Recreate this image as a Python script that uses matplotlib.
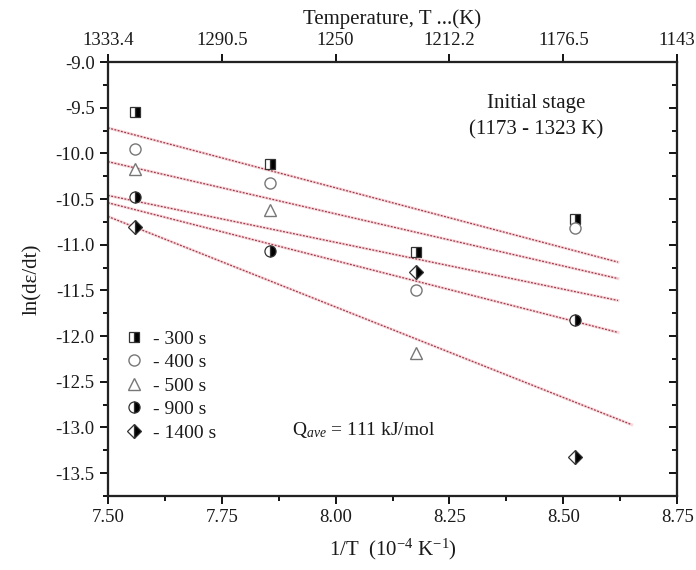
import numpy as np
import matplotlib
matplotlib.use('Agg')
import matplotlib.pyplot as plt

plt.rcParams['font.family'] = ['Liberation Serif', 'DejaVu Serif']
plt.rcParams['mathtext.fontset'] = 'custom'
plt.rcParams['mathtext.rm'] = 'Liberation Serif'
plt.rcParams['mathtext.it'] = 'Liberation Serif:italic'

# 1/T positions (10^-4 K^-1) of the four test temperatures
inv_T = [7.5586, 7.855, 8.177, 8.525]

# ln(de/dt) (nan = point not visible)
y_300 = [-9.55, -10.12, -11.08, -10.72]
y_400 = [-9.95, -10.32, -11.50, -10.82]
y_500 = [-10.17, -10.62, -12.18, np.nan]
y_900 = [-10.48, -11.07, np.nan, -11.82]
y_1400 = [-10.80, np.nan, -11.30, -13.32]

# fitted lines, start / end values
fit_x = [[7.50, 8.62], [7.50, 8.62], [7.50, 8.62], [7.50, 8.62], [7.50, 8.65]]
fit_y = [[-9.72, -11.19], [-10.09, -11.37], [-10.46, -11.61],
         [-10.54, -11.96], [-10.69, -12.97]]

top_ticks = [7.50, 7.75, 8.00, 8.25, 8.50, 8.75]
top_labels = ['1333.4', '1290.5', '1250', '1212.2', '1176.5', '1143']

txt = '#1a1a1a'

fig = plt.figure(figsize=(6.96, 5.70), dpi=100)
ax = fig.add_axes([0.155, 0.130, 0.818, 0.761])

for fx, fy in zip(fit_x, fit_y):
    ax.plot(fx, fy, color='#e07080', lw=2.2, alpha=0.25, zorder=1)
    ax.plot(fx, fy, color='#a03848', lw=0.9, ls=(0, (1.5, 1.2)), zorder=2)

ms = 7
ax.plot(inv_T, y_300, ls='none', marker='s', ms=ms - 0.5, fillstyle='right',
        markerfacecolor='black', markerfacecoloralt='white',
        markeredgecolor='#333333', markeredgewidth=0.9, label='- 300 s', zorder=3)
ax.plot(inv_T, y_400, ls='none', marker='o', ms=ms + 1, markerfacecolor='white',
        markeredgecolor='#777777', markeredgewidth=1.0, label='- 400 s', zorder=3)
ax.plot(inv_T, y_500, ls='none', marker='^', ms=ms + 1, markerfacecolor='white',
        markeredgecolor='#777777', markeredgewidth=1.0, label='- 500 s', zorder=3)
ax.plot(inv_T, y_900, ls='none', marker='o', ms=ms + 1, fillstyle='right',
        markerfacecolor='black', markerfacecoloralt='white',
        markeredgecolor='#333333', markeredgewidth=0.9, label='- 900 s', zorder=3)
ax.plot(inv_T, y_1400, ls='none', marker='D', ms=ms, fillstyle='right',
        markerfacecolor='black', markerfacecoloralt='white',
        markeredgecolor='#333333', markeredgewidth=0.9, label='- 1400 s', zorder=3)

ax.set_xlim(7.50, 8.75)
ax.set_ylim(-13.75, -9.0)
ax.set_xticks([7.50, 7.75, 8.00, 8.25, 8.50, 8.75])
ax.set_xticks(np.arange(7.625, 8.75, 0.25), minor=True)
yt = np.arange(-13.5, -8.9, 0.5)
yminor = np.arange(-13.75, -8.9, 0.25)
ax.set_yticks(yt)
ax.set_yticks(yminor, minor=True)
ax.set_yticklabels(['%.1f' % v for v in yt])
ax.tick_params(axis='both', which='both', direction='out', labelsize=13.5,
               width=1.3, labelcolor=txt)
ax.tick_params(which='major', length=6)
ax.tick_params(which='minor', length=3.5)
for s in ax.spines.values():
    s.set_linewidth(1.5)
    s.set_color('#222222')

ax.set_xlabel('1/T  (10$^{-4}$ K$^{-1}$)', fontsize=15, labelpad=8, color=txt)
ax.set_ylabel('ln(d\u03b5/dt)', fontsize=15, labelpad=10, color=txt)

# right axis: inward ticks, no labels
axr = ax.twinx()
axr.set_ylim(ax.get_ylim())
axr.set_yticks(yt)
axr.set_yticks(yminor, minor=True)
axr.tick_params(axis='y', which='both', direction='in', labelright=False, width=1.3)
axr.tick_params(which='major', length=6)
axr.tick_params(which='minor', length=3.5)

ax2 = ax.twiny()
ax2.set_xlim(ax.get_xlim())
ax2.set_xticks(top_ticks)
ax2.set_xticklabels(top_labels)
ax2.tick_params(axis='x', which='both', direction='out', labelsize=13.5, width=1.3,
                labelcolor=txt)
ax2.tick_params(which='major', length=6)
ax2.tick_params(which='minor', length=0)
ax2.set_xlabel('Temperature, T ...(K)', fontsize=15, labelpad=6, color=txt)
for a in (ax2, axr):
    for s in a.spines.values():
        s.set_linewidth(1.5)
        s.set_color('#222222')

ax.text(8.44, -9.45, 'Initial stage', fontsize=15, ha='center', va='center',
        color=txt)
ax.text(8.44, -9.74, '(1173 - 1323 K)', fontsize=15, ha='center', va='center',
        color=txt)
ax.text(7.905, -13.03, 'Q$_{ave}$ = 111 kJ/mol', fontsize=14, ha='left',
        va='center', color=txt)

ax.legend(frameon=False, loc='upper left', bbox_to_anchor=(0.015, 0.40),
          fontsize=14, handlelength=1.0, handletextpad=0.5, labelspacing=0.3,
          borderaxespad=0, labelcolor=txt)

fig.savefig('out.png', dpi=100)
